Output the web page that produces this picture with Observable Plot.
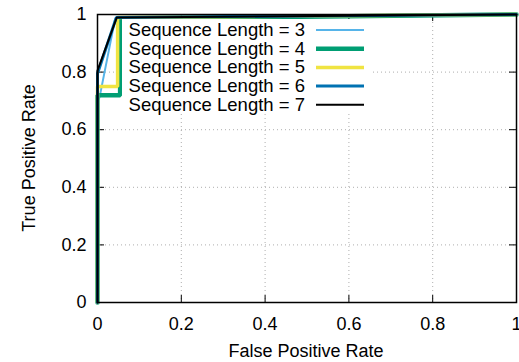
<!DOCTYPE html>
<html><head><meta charset="utf-8">
<script src="https://cdn.jsdelivr.net/npm/d3@7"></script>
<script src="https://cdn.jsdelivr.net/npm/@observablehq/plot@0.6"></script>
<style>
body{margin:0;background:#fff;font-family:"Liberation Sans",Arial,sans-serif;}
</style></head><body>
<div id="wrap"></div>
<script>
const seriesNames = ["Sequence Length = 3","Sequence Length = 4","Sequence Length = 5","Sequence Length = 6","Sequence Length = 7"];
const seriesColors = ["#56b4e9","#009e73","#f0e442","#0072b2","#000000"];
const seriesWidths = [2,4.5,3.5,3,2];
const fpr3 = [0, 0, 0.005, 0.042, 1];
const tpr3 = [0, 0.70, 0.713, 0.985, 1];
const fpr4 = [0, 0, 0.054, 0.054, 1];
const tpr4 = [0, 0.72, 0.72, 0.985, 1];
const fpr5 = [0, 0, 0.048, 0.048, 1];
const tpr5 = [0, 0.75, 0.75, 0.99, 1];
const fpr6 = [0, 0, 0.045, 1];
const tpr6 = [0, 0.795, 0.99, 1];
const fpr7 = [0, 0, 0.046, 1];
const tpr7 = [0, 0.805, 0.99, 1];
const xTicks = [0, 0.2, 0.4, 0.6, 0.8, 1];
const yTicks = [0, 0.2, 0.4, 0.6, 0.8, 1];
const xLabel = "False Positive Rate";
const yLabel = "True Positive Rate";

const fprs = [fpr3,fpr4,fpr5,fpr6,fpr7];
const tprs = [tpr3,tpr4,tpr5,tpr6,tpr7];
const rows = [];
fprs.forEach((f,i)=>f.forEach((x,j)=>rows.push({s:seriesNames[i], i, x, y:tprs[i][j]})));

const innerH = 288, innerW = 419;
const lineMarks = seriesNames.map((n,i)=>Plot.line(rows.filter(r=>r.i===i),{x:"x",y:"y",stroke:seriesColors[i],strokeWidth:seriesWidths[i],strokeLinejoin:"miter"}));

const chart = Plot.plot({
  width:519, height:362,
  marginLeft:97, marginRight:3, marginTop:14, marginBottom:60,
  style:{fontFamily:"'Liberation Sans', Arial, sans-serif", fontSize:"18px", color:"#000", background:"#fff"},
  x:{domain:[0,1]}, y:{domain:[0,1]},
  marks:[
    Plot.gridX(xTicks.slice(1,-1),{stroke:"#999",strokeOpacity:1,strokeWidth:0.8,strokeDasharray:"1,3"}),
    Plot.gridY(yTicks.slice(1,-1),{stroke:"#999",strokeOpacity:1,strokeWidth:0.8,strokeDasharray:"1,3"}),
    Plot.tickX(xTicks,{x:d=>d,insetTop:innerH-7,stroke:"#000",strokeWidth:1}),
    Plot.tickX(xTicks,{x:d=>d,insetBottom:innerH-7,stroke:"#000",strokeWidth:1}),
    Plot.tickY(yTicks,{y:d=>d,insetRight:innerW-7,stroke:"#000",strokeWidth:1}),
    Plot.tickY(yTicks,{y:d=>d,insetLeft:innerW-7,stroke:"#000",strokeWidth:1}),
    Plot.axisX(xTicks,{tickSize:0,tickPadding:15,tickFormat:d=>String(d),label:null,fontSize:18}),
    Plot.axisY(yTicks,{tickSize:0,tickPadding:11,tickFormat:d=>String(d),label:null,fontSize:18}),
    ...lineMarks,
    Plot.frame({stroke:"#000",strokeWidth:1.5})
  ]
});
const wrap = document.getElementById("wrap");
wrap.appendChild(chart);
const svg = d3.select(chart);
svg.append("text").attr("x",306).attr("y",357).attr("text-anchor","middle").attr("font-size",18).attr("fill","#000").text(xLabel);
svg.append("text").attr("transform","translate(35,158) rotate(-90)").attr("text-anchor","middle").attr("font-size",18).attr("fill","#000").text(yLabel);

const g = svg.append("g");
g.append("rect").attr("x",122).attr("y",19).attr("width",250).attr("height",94).attr("fill","#fff");
seriesNames.forEach((n,i)=>{
  g.append("text").attr("x",305).attr("y",36+i*18.7).attr("text-anchor","end").attr("font-size",18.5).attr("fill","#000").text(n);
  g.append("line").attr("x1",316).attr("x2",364).attr("y1",30+i*18.7).attr("y2",30+i*18.7).attr("stroke",seriesColors[i]).attr("stroke-width",seriesWidths[i]);
});
</script>
</body></html>
